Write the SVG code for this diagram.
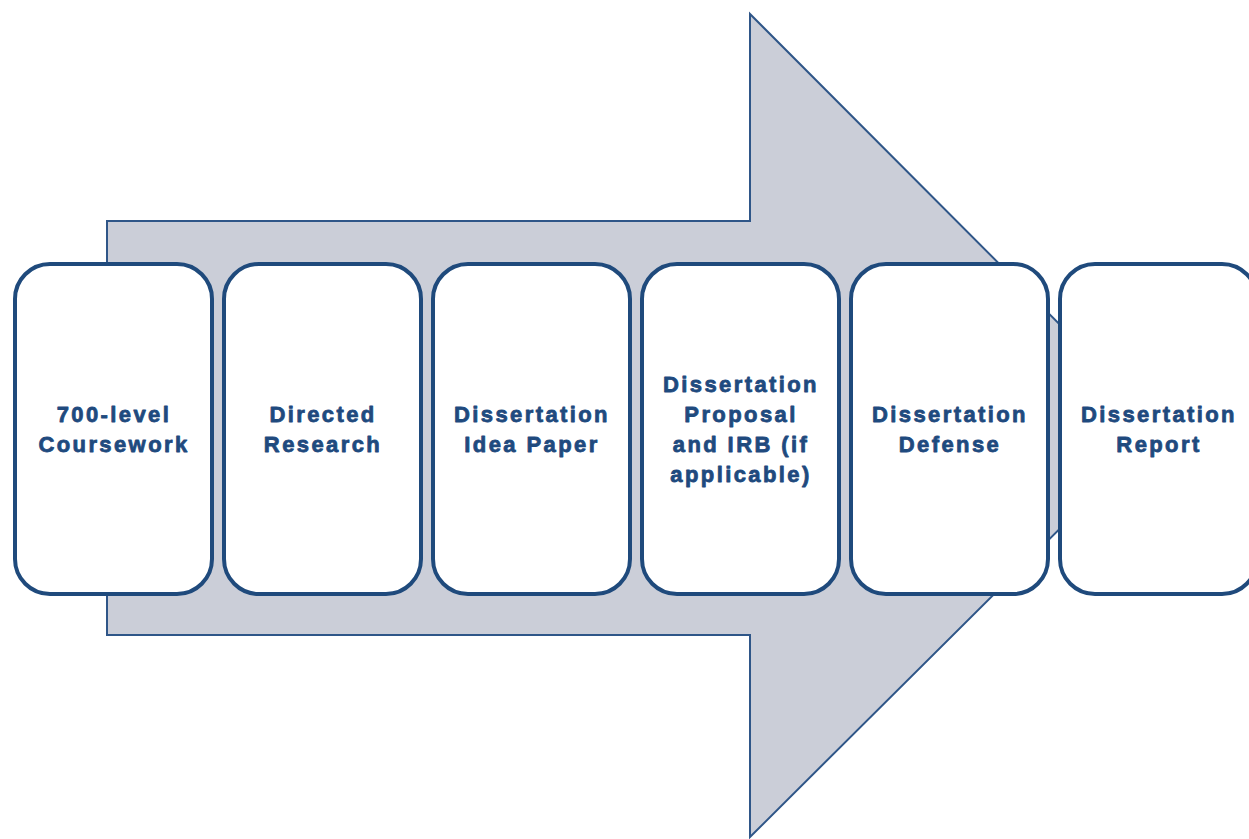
<svg xmlns="http://www.w3.org/2000/svg" width="1249" height="839" viewBox="0 0 1249 839">
<style>
.box{fill:#ffffff;stroke:#1f4a7c;stroke-width:4}
.lbl{font-family:"Liberation Sans",Arial,sans-serif;font-weight:bold;font-size:22px;letter-spacing:2.4px;fill:#1f4a7e;stroke:#1f4a7e;stroke-width:0.8;stroke-linejoin:round;text-anchor:middle}
.arrow{fill:#cbced8;stroke:#2f5688;stroke-width:2;stroke-linejoin:miter}
</style>
<rect width="1249" height="839" fill="#ffffff"/>
<g id="connectors">
<path class="arrow" d="M107,221 L750,221 L750,14 L1162,427 L750,837 L750,635 L107,635 Z"/>
</g>
<g id="n1">
<rect class="box" x="15" y="264" width="197" height="330" rx="35"/>
<text class="lbl" x="114" y="422">700-level</text>
<text class="lbl" x="114" y="452">Coursework</text>
</g>
<g id="n2">
<rect class="box" x="224" y="264" width="197" height="330" rx="35"/>
<text class="lbl" x="323" y="422">Directed</text>
<text class="lbl" x="323" y="452">Research</text>
</g>
<g id="n3">
<rect class="box" x="433" y="264" width="197" height="330" rx="35"/>
<text class="lbl" x="532" y="422">Dissertation</text>
<text class="lbl" x="532" y="452">Idea Paper</text>
</g>
<g id="n4">
<rect class="box" x="642" y="264" width="197" height="330" rx="35"/>
<text class="lbl" x="741" y="392">Dissertation</text>
<text class="lbl" x="741" y="422">Proposal</text>
<text class="lbl" x="741" y="452">and IRB (if</text>
<text class="lbl" x="741" y="482">applicable)</text>
</g>
<g id="n5">
<rect class="box" x="851" y="264" width="197" height="330" rx="35"/>
<text class="lbl" x="950" y="422">Dissertation</text>
<text class="lbl" x="950" y="452">Defense</text>
</g>
<g id="n6">
<rect class="box" x="1060" y="264" width="197" height="330" rx="35"/>
<text class="lbl" x="1159" y="422">Dissertation</text>
<text class="lbl" x="1159" y="452">Report</text>
</g>
</svg>
